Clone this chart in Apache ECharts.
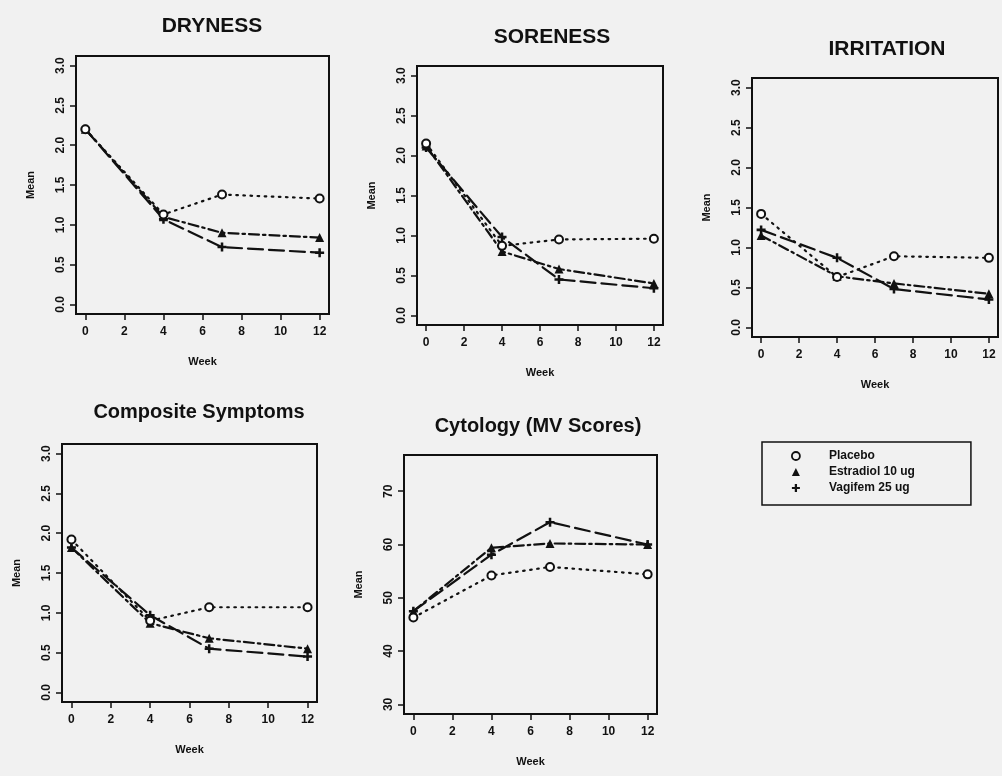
<!DOCTYPE html>
<html>
<head>
<meta charset="utf-8">
<script src="https://cdn.jsdelivr.net/npm/echarts@6/dist/echarts.min.js"></script>
<style>
  html, body { margin: 0; padding: 0; background: #f1f1f1; }
  #chart { width: 1002px; height: 776px; }
</style>
</head>
<body>
<div id="chart"></div>
<script>
// ---- data ----
const weeks = [0, 4, 7, 12];
const groupNames = ['Placebo', 'Estradiol 10 ug', 'Vagifem 25 ug'];
const panelTitles = ['DRYNESS', 'SORENESS', 'IRRITATION', 'Composite Symptoms', 'Cytology (MV Scores)'];
const weekTicks = [0, 2, 4, 6, 8, 10, 12];
const scoreTicks = [0, 0.5, 1.0, 1.5, 2.0, 2.5, 3.0];
const cytologyTicks = [30, 40, 50, 60, 70];

const drynessPlacebo   = [2.2, 1.13, 1.38, 1.33];
const drynessEstradiol = [2.2, 1.10, 0.90, 0.84];
const drynessVagifem   = [2.2, 1.07, 0.72, 0.65];

const sorenessPlacebo   = [2.15, 0.87, 0.95, 0.96];
const sorenessEstradiol = [2.12, 0.80, 0.58, 0.40];
const sorenessVagifem   = [2.10, 0.98, 0.45, 0.34];

const irritationPlacebo   = [1.42, 0.63, 0.89, 0.87];
const irritationEstradiol = [1.15, 0.64, 0.55, 0.42];
const irritationVagifem   = [1.22, 0.87, 0.48, 0.35];

const compositePlacebo   = [1.92, 0.90, 1.07, 1.07];
const compositeEstradiol = [1.82, 0.87, 0.68, 0.55];
const compositeVagifem   = [1.82, 0.97, 0.55, 0.45];

const cytologyPlacebo   = [46.3, 54.2, 55.8, 54.4];
const cytologyEstradiol = [47.5, 59.4, 60.2, 60.0];
const cytologyVagifem   = [47.5, 58.1, 64.2, 60.0];

const panelSeries = [
  [drynessPlacebo, drynessEstradiol, drynessVagifem],
  [sorenessPlacebo, sorenessEstradiol, sorenessVagifem],
  [irritationPlacebo, irritationEstradiol, irritationVagifem],
  [compositePlacebo, compositeEstradiol, compositeVagifem],
  [cytologyPlacebo, cytologyEstradiol, cytologyVagifem]
];

// ---- layout / style ----
const boxes = [ // left, top, right, bottom of each plot frame
  [76, 56, 329, 314],
  [417, 66, 663, 325],
  [752, 78, 998, 337],
  [62, 444, 317, 702],
  [404, 455, 657, 714]
];
const titlePos = [[207, 21], [547, 32], [882, 44], [194, 407], [533, 421]];
const titleSize = [21, 21, 21, 20, 20];

const ink = '#111';
const font = '"Liberation Sans", Arial, Helvetica, sans-serif';
const plusPath = 'path://M3.6,0H6.4V3.6H10V6.4H6.4V10H3.6V6.4H0V3.6H3.6Z';
const symbols = ['emptyCircle', 'triangle', plusPath];
const symbolSizes = [8, 9, 9];
const dashes = [[1.6, 5.5], [10, 4, 2.5, 4], [15, 6]];

const grids = [], xAxes = [], yAxes = [], series = [], titles = [];
boxes.forEach((b, i) => {
  grids.push({
    left: b[0], top: b[1], width: b[2] - b[0], height: b[3] - b[1],
    show: true, borderColor: ink, borderWidth: 2, backgroundColor: 'transparent',
    outerBoundsMode: 'none', containLabel: false
  });
  const isCyt = i === 4;
  const yTicks = isCyt ? cytologyTicks : scoreTicks;
  const ymin = isCyt ? 30 : 0, ymax = isCyt ? 75 : 3;
  const ypad = (ymax - ymin) * 0.04;
  xAxes.push({
    type: 'value', gridIndex: i, min: -0.48, max: 12.48, position: 'bottom',
    name: 'Week', nameLocation: 'middle', nameGap: 42,
    nameTextStyle: { fontFamily: font, fontWeight: 'bold', fontSize: 11, color: ink },
    axisLine: { show: false, onZero: false },
    axisTick: { show: true, inside: false, length: 6, customValues: weekTicks, lineStyle: { color: ink, width: 1.5 } },
    axisLabel: { customValues: weekTicks, margin: 12, fontFamily: font, fontWeight: 'bold', fontSize: 12, color: ink },
    splitLine: { show: false }
  });
  yAxes.push({
    type: 'value', gridIndex: i, min: ymin - ypad, max: ymax + ypad, position: 'left',
    name: 'Mean', nameLocation: 'middle', nameGap: 40,
    nameTextStyle: { fontFamily: font, fontWeight: 'bold', fontSize: 11, color: ink },
    axisLine: { show: false, onZero: false },
    axisTick: { show: true, inside: false, length: 6, customValues: yTicks, lineStyle: { color: ink, width: 1.5 } },
    axisLabel: {
      customValues: yTicks, rotate: 90, margin: 9,
      formatter: v => isCyt ? String(Math.round(v)) : Number(v).toFixed(1),
      fontFamily: font, fontWeight: 'bold', fontSize: 12, color: ink
    },
    splitLine: { show: false }
  });
  titles.push({
    text: panelTitles[i], left: titlePos[i][0], top: titlePos[i][1],
    textAlign: 'center', textVerticalAlign: 'middle',
    textStyle: { fontFamily: font, fontWeight: 'bold', fontSize: titleSize[i], color: ink }
  });
  panelSeries[i].forEach((vals, g) => {
    series.push({
      name: groupNames[g], type: 'line', xAxisIndex: i, yAxisIndex: i,
      data: weeks.map((w, k) => [w, vals[k]]),
      symbol: symbols[g], symbolSize: symbolSizes[g],
      itemStyle: { color: ink, borderColor: ink, borderWidth: g === 0 ? 2 : 0 },
      lineStyle: { color: ink, width: 2.2, type: dashes[g], cap: 'round' },
      z: 3 - g,
      animation: false
    });
  });
});

const chart = echarts.init(document.getElementById('chart'), null, { renderer: 'canvas' });
chart.setOption({
  backgroundColor: '#f1f1f1',
  animation: false,
  title: titles,
  grid: grids,
  xAxis: xAxes,
  yAxis: yAxes,
  legend: {
    orient: 'vertical', left: 762, top: 442,
    padding: [8, 56, 11, 29], itemGap: 4, itemWidth: 8, itemHeight: 8,
    borderColor: ink, borderWidth: 1.5, backgroundColor: 'transparent',
    selectedMode: false,
    textStyle: { fontFamily: font, fontWeight: 'bold', fontSize: 12, color: ink, padding: [0, 0, 0, 24] },
    data: [
      { name: groupNames[0], icon: 'circle', itemStyle: { color: 'transparent', borderColor: ink, borderWidth: 1.8 } },
      { name: groupNames[1], icon: 'triangle', itemStyle: { color: ink, borderWidth: 0 } },
      { name: groupNames[2], icon: plusPath, itemStyle: { color: ink, borderWidth: 0 } }
    ]
  },
  series: series
});
</script>
</body>
</html>
